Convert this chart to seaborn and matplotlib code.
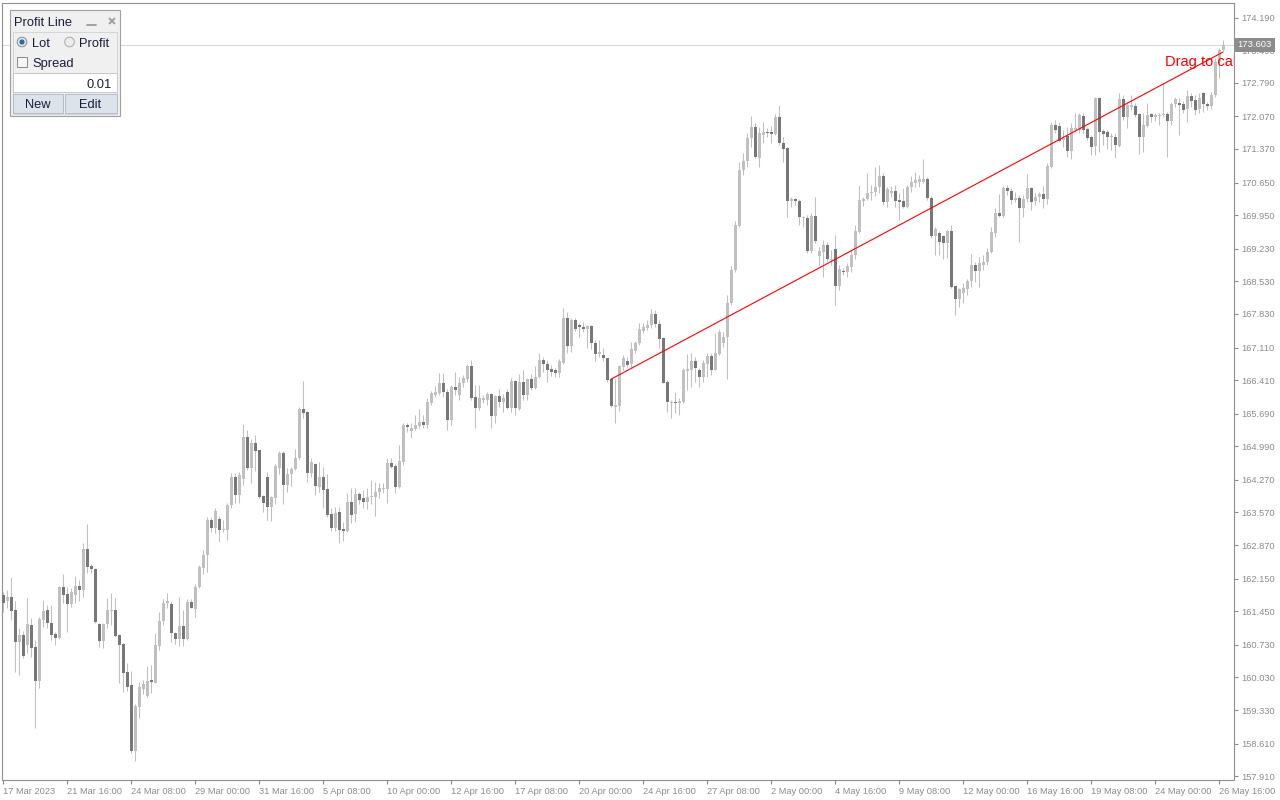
import numpy as np
import pandas as pd
import matplotlib
matplotlib.use("Agg")
import matplotlib.pyplot as plt
from matplotlib.patches import Rectangle, Circle
import seaborn as sns

# H4 candles, 17 Mar 2023 00:00 -> 26 May 2023 20:00
opens = [
    161.80, 161.66, 161.75, 161.48, 160.78, 160.94, 160.73, 161.16, 160.69, 159.96,
    161.26, 161.48, 161.19, 160.96, 160.88, 161.96, 161.82, 161.61, 161.80, 161.99,
    161.91, 162.79, 162.42, 162.36, 161.18, 160.82, 161.18, 161.46, 161.48, 160.94,
    160.75, 160.15, 159.87, 158.46, 159.40, 159.78, 159.64, 159.95, 159.92, 160.71,
    161.25, 161.62, 161.61, 160.99, 160.85, 161.13, 160.86, 161.65, 161.50, 161.98,
    162.37, 162.66, 163.41, 163.24, 163.42, 163.19, 163.19, 163.73, 164.34, 163.94,
    164.29, 165.20, 164.53, 165.07, 164.90, 163.93, 164.34, 163.69, 163.89, 164.53,
    164.85, 164.16, 164.39, 164.50, 164.73, 165.79, 165.73, 164.42, 164.61, 164.12,
    164.34, 164.07, 163.54, 163.24, 163.59, 163.22, 163.18, 163.80, 163.54, 163.97,
    163.88, 163.80, 163.90, 163.90, 164.00, 164.08, 164.07, 164.64, 164.57, 164.12,
    164.66, 165.45, 165.32, 165.36, 165.43, 165.52, 165.45, 165.91, 166.09, 166.14,
    166.35, 166.16, 165.55, 166.27, 166.09, 166.34, 166.43, 166.72, 166.05, 165.82,
    165.98, 165.98, 166.11, 165.65, 166.07, 165.93, 166.16, 165.81, 166.40, 165.78,
    166.38, 166.09, 166.43, 166.25, 166.47, 166.84, 166.76, 166.65, 166.63, 166.57,
    166.78, 167.74, 167.14, 167.69, 167.59, 167.56, 167.51, 167.57, 167.21, 166.97,
    166.96, 166.88, 166.43, 165.84, 165.86, 166.70, 166.81, 166.75, 167.03, 167.20,
    167.47, 167.52, 167.59, 167.83, 167.61, 167.31, 166.38, 165.91, 165.95, 165.91,
    165.93, 166.61, 166.63, 166.83, 166.63, 166.48, 166.76, 166.93, 166.63, 166.97,
    167.21, 167.33, 168.06, 168.77, 169.72, 170.93, 171.12, 171.60, 171.85, 171.18,
    171.67, 171.74, 171.74, 171.69, 172.06, 171.50, 171.40, 170.26, 170.29, 170.25,
    169.88, 169.88, 169.18, 169.93, 169.08, 169.17, 169.31, 168.99, 169.22, 168.43,
    168.75, 168.72, 168.84, 169.10, 169.59, 170.25, 170.29, 170.42, 170.45, 170.55,
    170.79, 170.24, 170.43, 170.47, 170.28, 170.26, 170.13, 170.55, 170.63, 170.67,
    170.67, 170.73, 170.31, 169.51, 169.57, 169.50, 169.36, 169.61, 168.43, 168.16,
    168.29, 168.36, 168.54, 168.88, 168.76, 168.88, 168.95, 169.15, 169.57, 169.99,
    169.93, 170.53, 170.47, 170.28, 170.32, 170.10, 170.29, 170.53, 170.25, 170.33,
    170.40, 170.29, 170.99, 171.88, 171.86, 171.56, 171.65, 171.33, 171.78, 171.78,
    172.08, 171.79, 171.62, 171.43, 172.46, 171.76, 171.74, 171.62, 171.63, 171.43,
    172.44, 172.06, 172.28, 172.30, 172.12, 171.63, 171.87, 172.12, 172.05, 172.08,
    172.10, 172.12, 171.98, 172.34, 172.36, 172.34, 172.22, 172.51, 172.42, 172.22,
    172.57, 172.34, 172.29, 172.53, 173.24, 173.49,
]
highs = [
    161.87, 161.91, 162.19, 161.66, 161.09, 161.03, 161.73, 161.30, 160.83, 161.33,
    161.69, 161.59, 161.59, 161.01, 162.00, 162.24, 161.98, 161.94, 162.21, 162.12,
    162.91, 163.32, 162.46, 162.38, 161.19, 161.20, 161.73, 161.84, 161.73, 160.96,
    160.76, 160.33, 160.17, 159.47, 159.94, 159.98, 160.28, 160.30, 160.98, 161.44,
    161.71, 161.84, 161.66, 161.01, 161.75, 161.48, 161.71, 161.71, 162.04, 162.44,
    162.76, 163.47, 163.47, 163.66, 163.50, 163.41, 163.78, 164.41, 164.42, 164.44,
    165.47, 165.34, 165.15, 165.23, 164.91, 163.94, 164.43, 163.92, 164.60, 164.89,
    164.89, 164.52, 164.55, 164.93, 165.84, 166.39, 165.74, 164.73, 164.64, 164.66,
    164.55, 164.40, 163.67, 163.69, 163.69, 163.37, 163.98, 164.09, 164.09, 164.02,
    164.05, 164.09, 164.27, 164.23, 164.21, 164.21, 164.73, 164.73, 164.62, 165.02,
    165.48, 165.50, 165.50, 165.66, 165.78, 165.66, 166.02, 166.18, 166.28, 166.57,
    166.56, 166.23, 166.30, 166.59, 166.47, 166.52, 166.76, 166.84, 166.30, 166.30,
    166.09, 166.16, 166.13, 166.09, 166.21, 166.11, 166.23, 166.45, 166.41, 166.54,
    166.63, 166.45, 166.54, 166.71, 167.00, 166.90, 166.84, 166.73, 166.66, 166.86,
    167.95, 167.88, 167.74, 167.74, 167.63, 167.66, 167.59, 167.59, 167.27, 167.27,
    167.09, 166.89, 166.45, 166.43, 166.74, 166.95, 166.91, 167.23, 167.26, 167.63,
    167.64, 167.70, 167.93, 167.92, 167.70, 167.34, 166.41, 165.98, 166.16, 166.03,
    166.66, 166.98, 167.00, 166.91, 166.66, 166.84, 167.00, 166.99, 167.43, 167.50,
    167.45, 168.24, 168.86, 169.83, 171.10, 171.28, 171.71, 172.08, 171.92, 171.85,
    171.96, 171.83, 171.86, 172.12, 172.31, 171.63, 171.42, 170.35, 170.31, 170.29,
    169.93, 169.95, 169.99, 170.35, 169.27, 169.42, 169.38, 169.20, 169.52, 168.88,
    168.81, 168.93, 169.20, 169.74, 170.60, 170.35, 170.85, 170.60, 170.99, 171.03,
    170.86, 170.56, 170.58, 170.60, 170.43, 170.53, 170.60, 170.79, 170.88, 170.81,
    171.15, 170.76, 170.36, 169.70, 169.60, 169.52, 169.63, 169.74, 168.43, 168.38,
    168.49, 168.57, 169.12, 168.95, 169.06, 169.10, 169.24, 169.70, 170.10, 170.40,
    170.58, 170.60, 170.53, 170.45, 170.38, 170.38, 170.83, 170.56, 170.42, 170.45,
    170.58, 171.06, 171.96, 171.99, 171.96, 171.78, 171.85, 171.92, 172.14, 172.14,
    172.14, 171.85, 171.67, 172.49, 172.49, 171.79, 171.78, 171.71, 171.71, 172.57,
    172.53, 172.38, 172.53, 172.35, 172.14, 172.14, 172.36, 172.15, 172.15, 172.14,
    172.78, 172.17, 172.38, 172.49, 172.46, 172.41, 172.64, 172.57, 172.53, 172.57,
    172.60, 172.38, 172.60, 173.32, 173.53, 173.71,
]
lows = [
    161.44, 161.51, 161.26, 160.15, 160.08, 160.44, 160.55, 160.47, 158.94, 159.81,
    161.12, 161.09, 160.83, 160.73, 160.86, 161.63, 161.01, 161.55, 161.62, 161.66,
    161.76, 162.27, 162.27, 161.19, 160.69, 160.67, 161.09, 161.16, 160.90, 159.92,
    159.72, 159.74, 158.40, 158.24, 159.17, 159.68, 159.62, 159.69, 159.90, 160.62,
    161.16, 161.51, 160.80, 160.75, 160.71, 160.71, 160.83, 161.51, 161.33, 161.94,
    162.25, 162.30, 163.16, 163.14, 162.94, 163.16, 162.99, 163.66, 163.77, 163.77,
    164.16, 164.48, 164.20, 164.47, 163.88, 163.59, 163.41, 163.39, 163.75, 164.40,
    163.75, 164.02, 164.14, 164.48, 164.70, 165.60, 164.22, 164.34, 163.94, 164.02,
    163.67, 163.48, 163.17, 163.17, 162.91, 162.96, 163.16, 163.35, 163.37, 163.75,
    163.66, 163.64, 163.75, 163.49, 163.87, 163.98, 163.78, 164.52, 163.98, 164.09,
    164.59, 165.30, 165.16, 165.34, 165.38, 165.38, 165.38, 165.88, 166.04, 166.09,
    166.05, 165.34, 165.45, 166.09, 165.98, 166.27, 166.38, 165.98, 165.38, 165.77,
    165.91, 165.88, 165.39, 165.48, 165.84, 165.73, 165.78, 165.73, 165.66, 165.77,
    165.98, 165.98, 166.20, 166.21, 166.45, 166.59, 166.38, 166.50, 166.47, 166.47,
    166.76, 166.99, 167.02, 167.47, 167.34, 167.45, 167.09, 167.07, 166.81, 166.91,
    166.81, 166.38, 165.84, 165.50, 165.75, 166.63, 166.70, 166.70, 166.99, 167.16,
    167.42, 167.49, 167.52, 167.54, 167.09, 166.34, 165.73, 165.59, 165.70, 165.66,
    165.92, 166.20, 166.27, 166.38, 166.27, 166.38, 166.48, 166.52, 166.62, 166.95,
    167.13, 166.43, 168.02, 168.74, 169.70, 170.81, 170.99, 171.42, 171.17, 170.98,
    171.49, 171.63, 171.49, 171.67, 171.46, 171.10, 169.92, 170.13, 170.17, 169.74,
    169.70, 169.13, 169.14, 169.35, 168.88, 168.63, 168.97, 168.88, 168.02, 168.34,
    168.67, 168.63, 168.74, 169.02, 169.56, 170.15, 170.27, 170.28, 170.36, 170.42,
    170.17, 170.13, 170.35, 170.12, 169.85, 170.10, 170.10, 170.45, 170.56, 170.56,
    170.63, 170.28, 169.45, 169.09, 169.10, 169.02, 169.03, 168.38, 167.81, 167.99,
    168.06, 168.24, 168.41, 168.52, 168.41, 168.77, 168.88, 169.13, 169.49, 169.92,
    169.92, 170.38, 170.20, 170.24, 169.38, 169.90, 170.24, 170.06, 170.17, 170.24,
    170.10, 170.20, 170.96, 171.71, 171.53, 171.42, 171.20, 171.15, 171.74, 171.71,
    171.71, 171.56, 171.24, 171.24, 171.31, 171.46, 171.38, 171.35, 171.17, 171.42,
    171.99, 171.81, 172.21, 172.06, 171.26, 171.31, 171.85, 171.96, 171.98, 171.88,
    172.06, 171.20, 171.88, 172.28, 171.67, 172.14, 171.96, 172.28, 172.10, 172.14,
    172.17, 172.21, 172.22, 172.49, 172.89, 173.48,
]
closes = [
    161.63, 161.75, 161.46, 160.78, 160.94, 160.50, 161.18, 160.67, 159.96, 161.28,
    161.46, 161.19, 160.94, 160.88, 161.98, 161.80, 161.61, 161.87, 161.99, 161.91,
    162.79, 162.40, 162.36, 161.21, 160.82, 161.18, 161.48, 161.48, 160.92, 160.73,
    160.13, 159.83, 158.46, 159.42, 159.83, 159.89, 159.95, 159.94, 160.73, 161.24,
    161.63, 161.67, 160.99, 160.85, 161.13, 160.86, 161.65, 161.53, 161.98, 162.39,
    162.66, 163.41, 163.24, 163.60, 163.20, 163.22, 163.73, 164.34, 163.94, 164.37,
    165.20, 164.53, 165.07, 164.88, 163.90, 163.77, 163.69, 163.91, 164.57, 164.85,
    164.16, 164.40, 164.50, 164.74, 165.79, 165.71, 164.42, 164.65, 164.14, 164.34,
    164.05, 163.52, 163.24, 163.56, 163.19, 163.18, 163.80, 163.52, 163.97, 163.84,
    163.80, 163.91, 163.93, 164.01, 164.10, 164.09, 164.64, 164.55, 164.12, 164.67,
    165.45, 165.41, 165.39, 165.45, 165.52, 165.45, 165.93, 166.13, 166.16, 166.35,
    166.16, 165.55, 166.26, 166.20, 166.35, 166.45, 166.72, 166.02, 165.82, 166.02,
    166.02, 166.11, 165.65, 166.07, 165.93, 166.03, 165.81, 166.40, 165.81, 166.38,
    166.09, 166.43, 166.25, 166.47, 166.84, 166.76, 166.63, 166.59, 166.57, 166.81,
    167.74, 167.14, 167.70, 167.50, 167.54, 167.50, 167.57, 167.20, 166.97, 167.02,
    166.88, 166.41, 165.86, 165.88, 166.71, 166.88, 166.74, 167.07, 167.21, 167.50,
    167.56, 167.59, 167.83, 167.61, 167.29, 166.35, 165.93, 165.95, 165.91, 165.97,
    166.63, 166.64, 166.83, 166.68, 166.48, 166.77, 166.93, 166.63, 166.99, 167.45,
    167.34, 168.06, 168.77, 169.74, 170.93, 171.12, 171.60, 171.85, 171.20, 171.71,
    171.74, 171.71, 171.69, 172.06, 171.49, 171.38, 170.26, 170.29, 170.25, 169.90,
    169.92, 169.18, 169.93, 169.40, 169.18, 169.31, 169.00, 169.02, 168.43, 168.79,
    168.72, 168.86, 169.10, 169.61, 170.28, 170.29, 170.42, 170.45, 170.56, 170.79,
    170.24, 170.51, 170.47, 170.26, 170.24, 170.13, 170.56, 170.67, 170.70, 170.72,
    170.73, 170.31, 169.51, 169.65, 169.38, 169.36, 169.61, 168.41, 168.16, 168.37,
    168.38, 168.54, 168.88, 168.76, 168.92, 168.95, 169.15, 169.59, 169.99, 169.94,
    170.53, 170.47, 170.28, 170.32, 170.10, 170.30, 170.53, 170.24, 170.35, 170.40,
    170.29, 171.00, 171.88, 171.78, 171.55, 171.60, 171.33, 171.81, 171.81, 172.10,
    171.78, 171.60, 171.42, 172.46, 171.74, 171.69, 171.62, 171.65, 171.46, 172.44,
    172.06, 172.31, 172.31, 172.11, 171.63, 171.88, 172.11, 172.05, 172.10, 172.11,
    172.12, 171.98, 172.34, 172.44, 172.31, 172.21, 172.51, 172.41, 172.21, 172.46,
    172.34, 172.30, 172.53, 173.24, 173.49, 173.603,
]

# red "profit line" drawn on the chart: (bar index, price)
line_bars = [152, 305]
line_prices = [166.43, 173.45]

price_ticks = [174.190, 173.490, 172.790, 172.070, 171.370, 170.650, 169.950,
               169.230, 168.530, 167.830, 167.110, 166.410, 165.690, 164.990,
               164.270, 163.570, 162.870, 162.150, 161.450, 160.730, 160.030,
               159.330, 158.610, 157.910]

sns.set_theme(style="white")
plt.rcParams['font.family'] = ['Liberation Sans', 'DejaVu Sans']

n = len(closes)
times = pd.date_range("2023-03-17 00:00", periods=n * 2, freq="4h")
times = times[times.dayofweek < 5][:n]

df = pd.DataFrame({"open": opens, "high": highs, "low": lows, "close": closes})
df["i"] = np.arange(n)
df["up"] = df["close"] >= df["open"]
df["high"] = np.maximum(df["high"], df[["open", "close"]].max(axis=1))
df["low"] = np.minimum(df["low"], df[["open", "close"]].min(axis=1))

bull = "#c0c0c0"
bear = "#777777"
grey = "#8c8c8c"

fig = plt.figure(figsize=(12.8, 8), dpi=100)
ax = fig.add_axes([2 / 1280, 20 / 800, 1232 / 1280, 777 / 800])

# wicks
ax.vlines(df["i"], df["low"], df["high"], color=bull, lw=0.75, zorder=2)
# bodies
body_lo = df[["open", "close"]].min(axis=1)
body_h = (df["close"] - df["open"]).abs().clip(lower=0.025)
ax.bar(df["i"], body_h, bottom=body_lo, width=0.75,
       color=np.where(df["up"], bull, bear), linewidth=0,
       antialiased=False, zorder=3)

# bid line + price label
last = closes[-1]
ax.axhline(last, color="#d9d9d9", lw=0.8, zorder=1)
ax.text(1.003, last, f"{last:.3f}", transform=ax.get_yaxis_transform(),
        ha="left", va="center", fontsize=6.8, color="white",
        bbox=dict(boxstyle="square,pad=0.3", fc=grey, ec="none"),
        clip_on=False, zorder=6)

# profit line
sns.lineplot(x=line_bars, y=line_prices, color="#ff0000", lw=0.8, ax=ax,
             zorder=4)
ax.text(290.6, 173.16, "Drag to calculate", color="#ff0000", fontsize=10.5,
        ha="left", va="baseline", clip_on=True, zorder=5)

ax.set_xlim(-0.25, 307.75)
ax.set_ylim(157.829, 174.503)

ax.yaxis.tick_right()
ax.set_yticks(price_ticks)
ax.set_yticklabels([f"{p:.3f}" for p in price_ticks])
tick_pos = list(range(0, n, 16))
tick_lab = []
for k in tick_pos:
    t = times[k]
    if k == 0:
        tick_lab.append(f"{t.day} {t:%b %Y}")
    else:
        tick_lab.append(f"{t.day} {t:%b %H:%M}")
ax.set_xticks(tick_pos)
ax.set_xticklabels(tick_lab, ha="left")
ax.tick_params(axis="both", which="both", direction="out", length=3,
               width=0.8, color=grey, labelcolor=grey, labelsize=6.7, pad=2)
ax.tick_params(axis="y", left=False, right=True)
ax.tick_params(axis="x", bottom=True)
ax.set_xlabel("")
ax.set_ylabel("")
for s in ax.spines.values():
    s.set_color("#909090")
    s.set_linewidth(0.8)

# "Profit Line" tool panel (pixel coordinates overlay)
ov = fig.add_axes([0, 0, 1, 1], zorder=10)
ov.set_xlim(0, 1280)
ov.set_ylim(800, 0)
ov.axis("off")
ov.patch.set_alpha(0)
txt = "#1c1c3a"
fs = 9.3
cb = "center_baseline"
ov.add_patch(Rectangle((9.5, 9.5), 110.5, 106.5, fc="#f0f0f0", ec="#a0a0a0", lw=0.8))
ov.add_patch(Rectangle((12.5, 32), 104.5, 81.5, fc="#f0f0f0", ec="#d0d0d0", lw=0.6))
ov.text(14, 22, "Profit Line", fontsize=fs, color=txt, va=cb)
ov.plot([87, 96], [25, 25], color="#9a9a9a", lw=1.3)
ov.plot([109.5, 114.5], [18.5, 23.5], color="#9a9a9a", lw=1.3)
ov.plot([109.5, 114.5], [23.5, 18.5], color="#9a9a9a", lw=1.3)
ov.add_patch(Circle((22, 42), 4.8, fc="#e6e6e6", ec="#8a8a8a", lw=0.7))
ov.add_patch(Circle((22, 42), 2.6, fc="#1f6fb0", ec="none"))
ov.text(32, 42.5, "Lot", fontsize=fs, color=txt, va=cb)
ov.add_patch(Circle((69.5, 42), 4.8, fc="#ececec", ec="#a8a8a8", lw=0.7))
ov.text(79, 42.5, "Profit", fontsize=fs, color=txt, va=cb)
ov.add_patch(Rectangle((17.3, 57.3), 10, 10, fc="#f6f6f6", ec="#888888", lw=0.7))
ov.text(32.5, 62.5, "Spread", fontsize=fs, color=txt, va=cb)
ov.add_patch(Rectangle((13.3, 73.3), 103.4, 18.4, fc="white", ec="#c8c8c8", lw=0.7))
ov.text(112, 83, "0.01", fontsize=fs, color=txt, va=cb, ha="right")
ov.add_patch(Rectangle((13.3, 93.5), 49.7, 19.5, fc="#dde3eb", ec="#b4bcc8", lw=0.7))
ov.add_patch(Rectangle((65, 93.5), 51.7, 19.5, fc="#dde3eb", ec="#b4bcc8", lw=0.7))
ov.text(38, 103.5, "New", fontsize=fs, color=txt, va=cb, ha="center")
ov.text(90, 103.5, "Edit", fontsize=fs, color=txt, va=cb, ha="center")

fig.savefig("out.png", dpi=100)
